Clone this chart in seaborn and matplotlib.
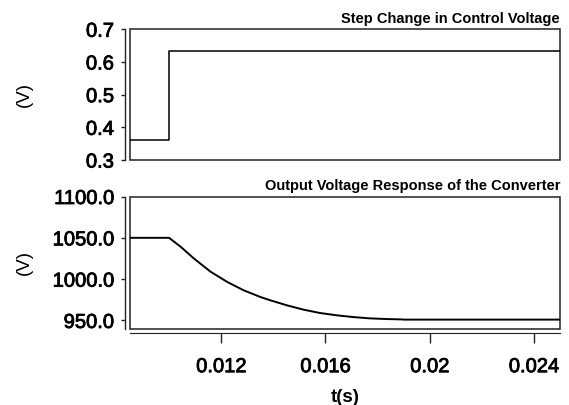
import matplotlib
matplotlib.use("Agg")
import matplotlib.pyplot as plt
import matplotlib.patheffects as pe
import seaborn as sns
from matplotlib.patches import Rectangle
from matplotlib.ticker import FormatStrFormatter

# control voltage step
ctrl_t = [0.0085, 0.0100, 0.0250]
ctrl_v = [0.361, 0.635, 0.635]

# converter output voltage
out_t = [0.0085, 0.0100, 0.01045, 0.01095, 0.01159, 0.01223, 0.01286, 0.01350,
         0.01388, 0.01452, 0.01515, 0.01579, 0.01643, 0.01706, 0.01770, 0.01834,
         0.01897, 0.01900, 0.02500]
out_v = [1050.0, 1050.0, 1039.0, 1025.0, 1009.0, 996.6, 986.5, 978.4,
         974.4, 968.3, 963.1, 959.0, 956.2, 954.1, 952.5, 951.7,
         951.2, 951.0, 951.0]

x_ticks = [0.012, 0.016, 0.02, 0.024]
x_tick_labels = ["0.012", "0.016", "0.02", "0.024"]
top_yticks = [0.3, 0.4, 0.5, 0.6, 0.7]
bot_yticks = [950, 1000, 1050, 1100]

sns.set_style("white")
plt.rcParams["font.family"] = ["Liberation Sans", "DejaVu Sans"]
plt.rcParams["text.color"] = "black"
plt.rcParams["axes.labelcolor"] = "black"
plt.rcParams["xtick.color"] = "black"
plt.rcParams["ytick.color"] = "black"

fig = plt.figure(figsize=(5.69, 4.05), dpi=100)
ax1 = fig.add_axes([0.2285, 0.6049, 0.7557, 0.3228])
ax2 = fig.add_axes([0.2285, 0.1884, 0.7557, 0.3264])

sns.lineplot(x=ctrl_t, y=ctrl_v, ax=ax1, color="black", lw=1.1, drawstyle="steps-post")
sns.lineplot(x=out_t, y=out_v, ax=ax2, color="black", lw=1.4)

edge = "#222222"
heavy = [pe.withStroke(linewidth=0.6, foreground="black")]
for ax in (ax1, ax2):
    ax.set_xlim(0.0085, 0.025)
    for s in ax.spines.values():
        s.set_visible(False)
    ax.spines["left"].set_visible(True)
    ax.spines["left"].set_position(("outward", 3.6))
    ax.spines["left"].set_color(edge)
    ax.spines["left"].set_linewidth(1.0)
    # closed frame around the plotting area
    ax.add_patch(Rectangle((0, 0), 1, 1, transform=ax.transAxes, fill=False,
                           ec=edge, lw=1.1, clip_on=False))
    ax.tick_params(axis="y", direction="out", left=True, length=3, width=1,
                   pad=5, labelsize=14.5, color=edge)
    ax.yaxis.set_major_formatter(FormatStrFormatter("%.1f"))
    ax.set_ylabel("(V)", fontsize=13.5)
    ax.yaxis.set_label_coords(-0.225, 0.5)

ax1.set_ylim(0.3, 0.7)
ax1.set_yticks(top_yticks)
ax1.set_xticks([])
ax1.set_title("Step Change in Control Voltage", loc="right", fontsize=10.5,
              fontweight="bold", pad=4.6)

ax2.set_ylim(940, 1100)
ax2.set_yticks(bot_yticks)
ax2.spines["bottom"].set_visible(True)
ax2.spines["bottom"].set_position(("outward", 3.3))
ax2.spines["bottom"].set_color(edge)
ax2.set_xticks(x_ticks)
ax2.set_xticklabels(x_tick_labels)
ax2.tick_params(axis="x", direction="out", bottom=True, length=7.2, width=1,
                pad=10, labelsize=14.5, color=edge)
ax2.set_xlabel("t(s)", fontsize=13.5, fontweight="bold", labelpad=9)
ax2.set_title("Output Voltage Response of the Converter", loc="right", fontsize=10.5,
              fontweight="bold", pad=4.6)

# slightly heavier tick text, like the original rendering
for ax in (ax1, ax2):
    for lab in ax.get_yticklabels() + ax.get_xticklabels():
        lab.set_path_effects(heavy)

fig.savefig("out.png", dpi=100)
